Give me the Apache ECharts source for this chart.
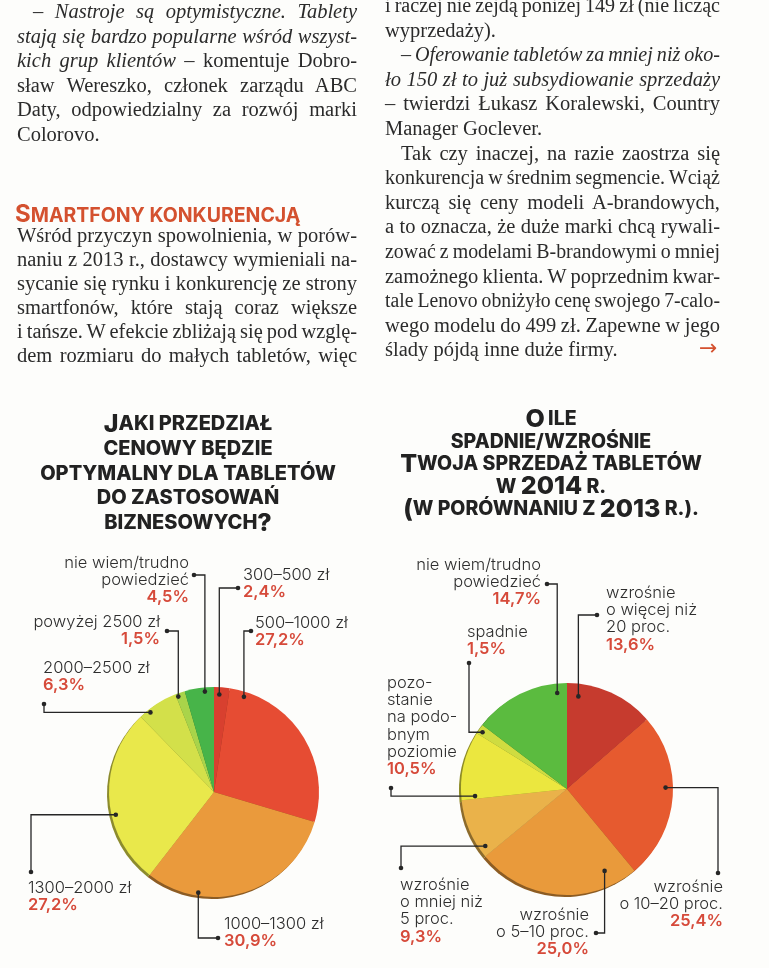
<!DOCTYPE html>
<html lang="pl">
<head>
<meta charset="utf-8">
<title>Tablety – przedział cenowy i prognoza sprzedaży</title>
<script src="https://cdn.jsdelivr.net/npm/echarts@6.0.0/dist/echarts.min.js"></script>
<style>
  html, body { margin: 0; padding: 0; background: #fdfdfb; }
  #page { position: relative; width: 769px; height: 968px; overflow: hidden; }
  #chart { position: absolute; left: 0; top: 0; width: 769px; height: 968px; }
  #article { position: absolute; left: 0; top: 0; width: 769px; height: 380px; pointer-events: none;
    font-family: 'Liberation Serif', 'DejaVu Serif', serif; font-size: 20.5px; color: #2b2b2b; }
  .ln { position: absolute; white-space: nowrap; line-height: 24px; height: 24px; transform-origin: 0 50%; }
  .hd { position: absolute; white-space: nowrap; font-family: Inter, 'Noto Sans', sans-serif; font-weight: 700;
    color: #d4512f; line-height: 26px; }
  .arrow { position: absolute; font-family: 'DejaVu Sans', sans-serif; font-size: 22px; color: #d4512f; line-height: 24px; }
</style>
</head>
<body>
<div id="page">
  <div id="chart"></div>
  <div id="article"></div>
</div>
<script>
// --- data ---
const leftNames = ['300–500 zł', '500–1000 zł', '1000–1300 zł', '1300–2000 zł', '2000–2500 zł', 'powyżej 2500 zł', 'nie wiem/trudno\npowiedzieć'];
const leftValues = [2.4, 27.2, 30.9, 27.2, 6.3, 1.5, 4.5];
const rightNames = ['wzrośnie\no więcej niż\n20 proc.', 'wzrośnie\no 10–20 proc.', 'wzrośnie\no 5–10 proc.', 'wzrośnie\no mniej niż\n5 proc.', 'pozo-\nstanie\nna podo-\nbnym\npoziomie', 'spadnie', 'nie wiem/trudno\npowiedzieć'];
const rightValues = [13.6, 25.4, 25.0, 9.3, 10.5, 1.5, 14.7];

// --- styles / layout ---
const leftColors = ['#d8402f', '#e64c33', '#ea9a3c', '#e9e84b', '#d3e04a', '#a9d44a', '#47b449'];
const rightColors = ['#c63b2e', '#e65a2f', '#e99a3b', '#eab24a', '#ebe73f', '#cfdc40', '#5bbb3f'];
const leftCenter = [214, 792], leftR = 105;
const rightCenter = [567, 789], rightR = 106;

// label box: [x, top, align]
const leftLabelPos = [[243, 566, 'left'], [255, 614, 'left'], [224, 915, 'left'], [28, 879, 'left'], [43, 659, 'left'], [160, 613, 'right'], [189, 554, 'right']];
const rightLabelPos = [[606, 584, 'left'], [723, 878, 'right'], [589, 906, 'right'], [400, 876, 'left'], [387, 674, 'left'], [467, 623, 'left'], [541, 556, 'right']];
// leader: [label dot x, label dot y, route, position inside slice (0-1), radius fraction]
const leftLeaders = [[238, 588, 'hv', 0.36, 0.93], [251, 631, 'hv', 0.09, 0.95], [218, 938, 'hv', 0.74, 0.97], [31, 872, 'vh', 0.40, 0.96], [44, 704, 'vh', 0.25, 0.97], [167, 631, 'hv', 0.2, 0.97], [194, 575, 'hv', 0.68, 0.96]];
const rightLeaders = [[597, 615, 'hv', 0.143, 0.88], [718, 873, 'vh', 0.44, 0.93], [596, 933, 'hv', 0.166, 0.85], [401, 868, 'vh', 0.14, 0.94], [391, 788, 'vh', 0.045, 0.87], [469, 663, 'vh', 0.41, 0.96], [547, 584, 'hv', 0.89, 0.91]];

const shade = (hex, k) => {
  const n = parseInt(hex.slice(1), 16);
  const c = [n >> 16, (n >> 8) & 255, n & 255].map(v => Math.round(v * k));
  return 'rgb(' + c.join(',') + ')';
};

const fmtPct = v => v.toFixed(1).replace('.', ',') + '%';

const labelRich = {
  n: { fontFamily: 'Inter, Lato, sans-serif', fontSize: 16.5, fontWeight: 300, color: '#2e2e2e', lineHeight: 17.3 },
  v: { fontFamily: 'Inter, Lato, sans-serif', fontSize: 16.5, fontWeight: 600, color: '#d64a3a', lineHeight: 17.3 }
};

const pieSeries = (names, values, colors, center, r, labelPos) => ({
  type: 'pie',
  z: 3,
  center: center,
  radius: r,
  startAngle: 90,
  clockwise: true,
  animation: false,
  avoidLabelOverlap: false,
  emphasis: { disabled: true },
  data: names.map((n, i) => ({ name: n, value: values[i], itemStyle: { color: colors[i] } })),
  label: {
    show: true,
    position: 'outside',
    overflow: 'none',
    formatter: p => p.name.split('\n').map(s => '{n|' + s + '}').join('\n') + '\n{v|' + fmtPct(p.value) + '}',
    rich: labelRich
  },
  labelLine: { show: false },
  labelLayout: p => {
    const pos = labelPos[p.dataIndex];
    return { x: pos[0], y: pos[1], align: pos[2], verticalAlign: 'top' };
  }
});

// darker copy of the pie, shifted a little, gives the rim seen on the left
const rimSeries = (names, values, colors, center, r) => ({
  type: 'pie',
  z: 1,
  silent: true,
  center: [center[0] - 2, center[1] + 2],
  radius: r,
  startAngle: 90,
  animation: false,
  label: { show: false },
  labelLine: { show: false },
  data: names.map((n, i) => ({ name: n, value: values[i], itemStyle: { color: shade(colors[i], 0.6) } }))
});

const titleRich = (lh, big, small) => ({
  B: { fontFamily: 'Inter, Lato, sans-serif', fontWeight: 800, fontSize: big, lineHeight: lh, fill: '#222', align: 'center' },
  s: { fontFamily: 'Inter, Lato, sans-serif', fontWeight: 800, fontSize: small, lineHeight: lh, fill: '#222', align: 'center' }
});

const titles = [
  {
    type: 'text', x: 188, y: 412, silent: true,
    style: {
      align: 'center', verticalAlign: 'top',
      text: '{B|J}{s|AKI PRZEDZIAŁ}\n{s|CENOWY BĘDZIE}\n{s|OPTYMALNY DLA TABLETÓW}\n{s|DO ZASTOSOWAŃ}\n{s|BIZNESOWYCH}{B|?}',
      rich: titleRich(24.7, 25, 20)
    }
  },
  {
    type: 'text', x: 551, y: 408, silent: true,
    style: {
      align: 'center', verticalAlign: 'top',
      text: '{B|O} {s|ILE}\n{s|SPADNIE/WZROŚNIE}\n{B|T}{s|WOJA SPRZEDAŻ TABLETÓW}\n{s|W }{B|2014}{s| R.}\n{B|(}{s|W PORÓWNANIU Z }{B|2013}{s| R.).}',
      rich: titleRich(22.5, 25, 19.5)
    }
  }
];

const chart = echarts.init(document.getElementById('chart'), null, { renderer: 'canvas' });
chart.setOption({
  animation: false,
  backgroundColor: '#fdfdfb',
  series: [
    pieSeries(leftNames, leftValues, leftColors, leftCenter, leftR, leftLabelPos),
    pieSeries(rightNames, rightValues, rightColors, rightCenter, rightR, rightLabelPos),
    rimSeries(leftNames, leftValues, leftColors, leftCenter, leftR),
    rimSeries(rightNames, rightValues, rightColors, rightCenter, rightR)
  ],
  graphic: titles
});

// leader lines: anchored on the sectors laid out by the pie series
const leaders = (seriesIndex, spec) => {
  const data = chart.getModel().getSeriesByIndex(seriesIndex).getData();
  const out = [];
  spec.forEach((s, i) => {
    const lay = data.getItemLayout(i);
    const a = lay.startAngle + (lay.endAngle - lay.startAngle) * s[3];
    const ax = lay.cx + lay.r * s[4] * Math.cos(a);
    const ay = lay.cy + lay.r * s[4] * Math.sin(a);
    const elbow = s[2] === 'hv' ? [ax, s[1]] : [s[0], ay];
    out.push({ type: 'polyline', silent: true, z: 20, shape: { points: [[s[0], s[1]], elbow, [ax, ay]] },
      style: { stroke: '#262626', lineWidth: 1.3, fill: null } });
    out.push({ type: 'circle', silent: true, z: 21, shape: { cx: s[0], cy: s[1], r: 2.3 }, style: { fill: '#262626' } });
    out.push({ type: 'circle', silent: true, z: 21, shape: { cx: ax, cy: ay, r: 2.3 }, style: { fill: '#262626' } });
  });
  return out;
};
chart.setOption({ graphic: titles.concat(leaders(0, leftLeaders), leaders(1, rightLeaders)) });

// --- article text above the charts ---
const cols = { L: { x: 17, w: 340 }, R: { x: 385, w: 335 } };
const ly = k => 11 + 24.6 * k;
const ry = k => 5 + 24.6 * k;
const textLines = [
  // [column, centre y, indent, html, justified]
  ['L', ly(0), 16, '<i>– Nastroje są optymistyczne. Tablety</i>', true],
  ['L', ly(1), 0, '<i>stają się bardzo popularne wśród wszyst-</i>', true],
  ['L', ly(2), 0, '<i>kich grup klientów</i> – komentuje Dobro-', true],
  ['L', ly(3), 0, 'sław Wereszko, członek zarządu ABC', true],
  ['L', ly(4), 0, 'Daty, odpowiedzialny za rozwój marki', true],
  ['L', ly(5), 0, 'Colorovo.', false],
  ['L', 235, 0, 'Wśród przyczyn spowolnienia, w porów-', true],
  ['L', 259, 0, 'naniu z 2013 r., dostawcy wymieniali na-', true],
  ['L', 283, 0, 'sycanie się rynku i konkurencję ze strony', true],
  ['L', 307, 0, 'smartfonów, które stają coraz większe', true],
  ['L', 331, 0, 'i tańsze. W efekcie zbliżają się pod wzglę-', true],
  ['L', 355, 0, 'dem rozmiaru do małych tabletów, więc', true],
  ['R', ry(0), 0, 'i raczej nie zejdą poniżej 149 zł (nie licząc', true],
  ['R', ry(1), 0, 'wyprzedaży).', false],
  ['R', ry(2), 16, '<i>– Oferowanie tabletów za mniej niż oko-</i>', true],
  ['R', ry(3), 0, '<i>ło 150 zł to już subsydiowanie sprzedaży</i>', true],
  ['R', ry(4), 0, '– twierdzi Łukasz Koralewski, Country', true],
  ['R', ry(5), 0, 'Manager Goclever.', false],
  ['R', ry(6), 16, 'Tak czy inaczej, na razie zaostrza się', true],
  ['R', ry(7), 0, 'konkurencja w średnim segmencie. Wciąż', true],
  ['R', ry(8), 0, 'kurczą się ceny modeli A-brandowych,', true],
  ['R', ry(9), 0, 'a to oznacza, że duże marki chcą rywali-', true],
  ['R', ry(10), 0, 'zować z modelami B-brandowymi o mniej', true],
  ['R', ry(11), 0, 'zamożnego klienta. W poprzednim kwar-', true],
  ['R', ry(12), 0, 'tale Lenovo obniżyło cenę swojego 7-calo-', true],
  ['R', ry(13), 0, 'wego modelu do 499 zł. Zapewne w jego', true],
  ['R', ry(14), 0, 'ślady pójdą inne duże firmy.', false]
];

const box = document.getElementById('article');
textLines.forEach(([c, y, ind, html, just]) => {
  const col = cols[c];
  const el = document.createElement('div');
  el.className = 'ln';
  el.style.left = (col.x + ind) + 'px';
  el.style.top = (y - 12) + 'px';
  el.innerHTML = html;
  box.appendChild(el);
  if (just) {
    const target = col.w - ind;
    const nat = el.getBoundingClientRect().width;
    const spaces = (el.textContent.match(/ /g) || []).length;
    const ws = spaces ? (target - nat) / spaces : 0;
    if (ws >= -1) {
      el.style.wordSpacing = ws + 'px';
    } else {
      // too long for the column: keep a small space cut and squeeze the rest
      el.style.wordSpacing = '-1px';
      const w2 = el.getBoundingClientRect().width;
      el.style.transform = 'scaleX(' + (target / w2) + ')';
    }
  }
});

const hd = document.createElement('div');
hd.className = 'hd';
hd.style.left = '15px';
hd.style.top = '201px';
hd.innerHTML = '<span style="font-size:24px">S</span><span style="font-size:19.5px">MARTFONY KONKURENCJĄ</span>';
box.appendChild(hd);

const arrow = document.createElement('div');
arrow.className = 'arrow';
arrow.style.left = '699px';
arrow.style.top = (ry(14) - 13) + 'px';
arrow.textContent = '→';
box.appendChild(arrow);
</script>
</body>
</html>
